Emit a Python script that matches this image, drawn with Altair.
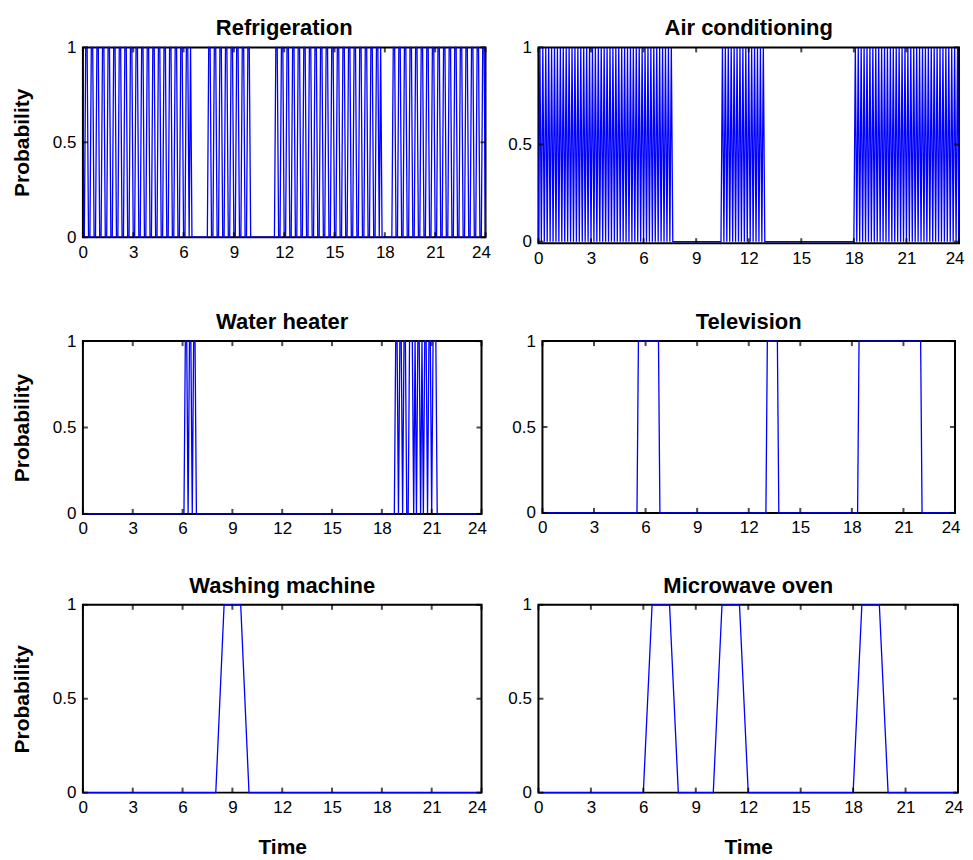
import altair as alt
import pandas as pd

# ---------------- data ----------------
# 5-minute resolution series, one 12-character chunk per hour, plus the value at 24 h
STEP_5MIN = 1.0 / 12.0
STEP_30MIN = 0.5

REFRIGERATION = [
    "001100110011", "001100110011", "001100110011", "001100110011",
    "001100110011", "001100110011", "001101000000", "000000110011",
    "001100110011", "001100110011", "000000000000", "000000110011",
    "001100110011", "001100110011", "001100110011", "001100110011",
    "001100110011", "001100110100", "000000110011", "001100110011",
    "001100110011", "001100110011", "001100110011", "001100110011",
    "0",
]

AIR_CONDITIONING = [
    "010101010101", "010101010101", "010101010101", "010101010101",
    "010101010101", "010101010101", "010101010101", "010101010000",
    "000000000000", "000000000000", "000000101010", "101010101010",
    "101010101010", "000000000000", "000000000000", "000000000000",
    "000000000000", "000000000000", "010101010101", "010101010101",
    "010101010101", "010101010101", "010101010101", "010101010101",
    "0",
]

WATER_HEATER = [
    "000000000000", "000000000000", "000000000000", "000000000000",
    "000000000000", "000000000000", "001101101100", "000000000000",
    "000000000000", "000000000000", "000000000000", "000000000000",
    "000000000000", "000000000000", "000000000000", "000000000000",
    "000000000000", "000000000000", "000000000011", "011011001110",
    "101101011011", "011100000000", "000000000000", "000000000000",
    "0",
]

TELEVISION = [
    "000000000000", "000000000000", "000000000000", "000000000000",
    "000000000000", "000000011111", "111111111100", "000000000000",
    "000000000000", "000000000000", "000000000000", "000000000000",
    "000000000000", "011111111000", "000000000000", "000000000000",
    "000000000000", "000000000000", "000001111111", "111111111111",
    "111111111111", "111111111111", "100000000000", "000000000000",
    "0",
]

# 30-minute resolution series, one 12-character chunk per 6 hours, plus the value at 24 h
WASHING_MACHINE = ["000000000000", "000001110000", "000000000000", "000000000000", "0"]
MICROWAVE_OVEN = ["000000000000", "011100000111", "000000000000", "011100000000", "0"]

X_TICKS = [0, 3, 6, 9, 12, 15, 18, 21, 24]
Y_TICKS = [0, 0.5, 1]

FONT = "Liberation Sans"
BLUE = "#0000ff"


def to_frame(chunks, step):
    vals = [int(c) for c in "".join(chunks)]
    return pd.DataFrame({"t": [i * step for i in range(len(vals))], "v": vals})


def panel(title, chunks, step, width, height, y_title, x_title, ymin=0.0):
    df = to_frame(chunks, step)
    xscale = alt.Scale(domain=[0, 24], nice=False, zero=False)
    yscale = alt.Scale(domain=[ymin, 1], nice=False, zero=False)
    if x_title:
        xaxis = alt.Axis(values=X_TICKS, format="d", labelFlush=True, labelFlushOffset=5,
                         labelPadding=7, title=x_title, titlePadding=21)
    else:
        xaxis = alt.Axis(values=X_TICKS, format="d", labelFlush=True, labelFlushOffset=5,
                         labelPadding=7, title=None)
    if y_title:
        yaxis = alt.Axis(values=Y_TICKS, format="~g", labelPadding=7,
                         title=y_title, titlePadding=20)
    else:
        yaxis = alt.Axis(values=Y_TICKS, format="~g", labelPadding=7, title=None)

    line = alt.Chart(df).mark_line(color=BLUE, strokeWidth=1.3).encode(
        x=alt.X("t:Q", scale=xscale, axis=xaxis),
        y=alt.Y("v:Q", scale=yscale, axis=yaxis),
    )
    xt = pd.DataFrame({"t": X_TICKS})
    yt = pd.DataFrame({"v": Y_TICKS})
    tick_bottom = alt.Chart(xt).mark_tick(color="black", thickness=2, size=5, orient="vertical").encode(
        x=alt.X("t:Q", scale=xscale), y=alt.value(height - 2.5))
    tick_top = alt.Chart(xt).mark_tick(color="black", thickness=2, size=5, orient="vertical").encode(
        x=alt.X("t:Q", scale=xscale), y=alt.value(2.5))
    tick_left = alt.Chart(yt).mark_tick(color="black", thickness=2, size=5, orient="horizontal").encode(
        y=alt.Y("v:Q", scale=yscale), x=alt.value(2.5))
    tick_right = alt.Chart(yt).mark_tick(color="black", thickness=2, size=5, orient="horizontal").encode(
        y=alt.Y("v:Q", scale=yscale), x=alt.value(width - 2.5))
    return alt.layer(line, tick_bottom, tick_top, tick_left, tick_right).properties(
        width=width, height=height,
        title=alt.TitleParams(title, font=FONT, fontSize=22, fontWeight="bold", color="black",
                              frame="group", anchor="middle", offset=-2),
    )


p1 = panel("Refrigeration", REFRIGERATION, STEP_5MIN, 403, 190, "Probability", None)
p2 = panel("Air conditioning", AIR_CONDITIONING, STEP_5MIN, 421, 196, None, None, ymin=-0.008)
p3 = panel("Water heater", WATER_HEATER, STEP_5MIN, 399, 173, "Probability", None)
p4 = panel("Television", TELEVISION, STEP_5MIN, 413, 172, None, None)
p5 = panel("Washing machine", WASHING_MACHINE, STEP_30MIN, 399, 188, "Probability", "Time")
p6 = panel("Microwave oven", MICROWAVE_OVEN, STEP_30MIN, 420, 188, None, "Time")

row1 = alt.hconcat(p1, p2, spacing=53, bounds="flush")
row2 = alt.hconcat(p3, p4, spacing=61, bounds="flush")
row3 = alt.hconcat(p5, p6, spacing=57, bounds="flush")

lower = alt.vconcat(row2, row3, spacing=36)
chart = alt.vconcat(row1, lower, spacing=43).properties(
    padding={"left": 2, "top": 8, "right": 0, "bottom": 0},
    background="white",
).configure_view(
    stroke="black", strokeWidth=2
).configure_axis(
    grid=False, domain=False, ticks=False,
    labelFont=FONT, labelFontSize=17, labelColor="black",
    titleFont=FONT, titleFontSize=21, titleFontWeight="bold", titleColor="black",
)

chart.save("out.html", embed_options={"renderer": "svg", "actions": False})
